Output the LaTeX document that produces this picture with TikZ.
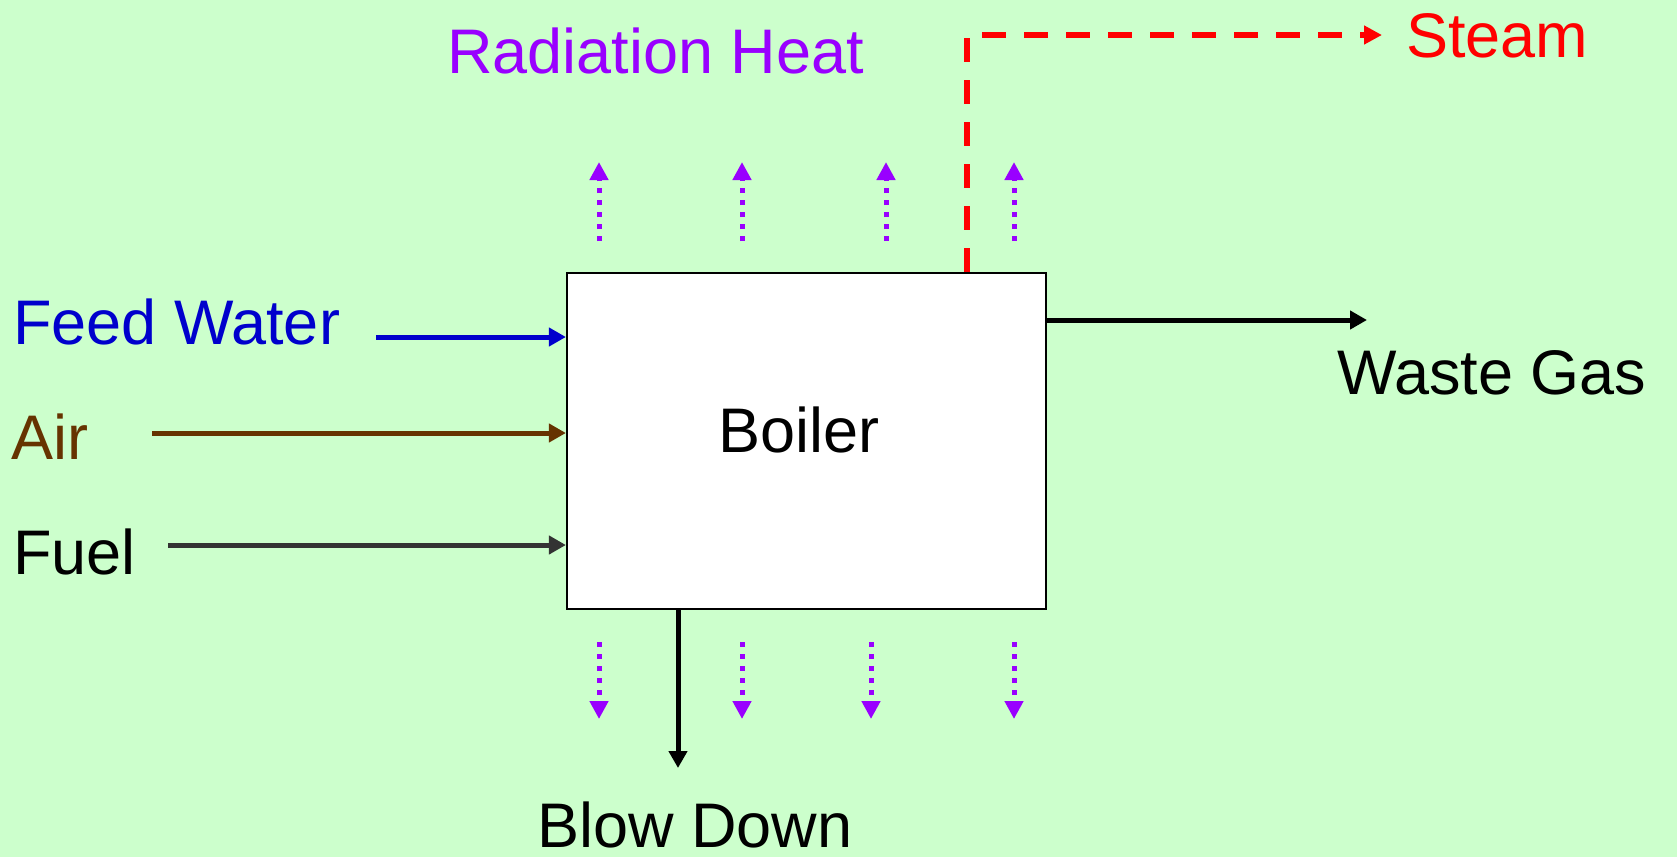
\documentclass[tikz,border=0pt]{standalone}
\usepackage{fontspec}
\setmainfont{Liberation Sans}
\usetikzlibrary{arrows.meta}
\definecolor{bgc}{HTML}{CCFFCC}
\definecolor{fwc}{HTML}{0000CC}
\definecolor{airc}{HTML}{663300}
\definecolor{fuelc}{HTML}{333333}
\definecolor{radc}{HTML}{9900FF}
\definecolor{stc}{HTML}{FF0000}
\tikzset{
  lbl/.style={inner sep=0pt, anchor=base west, font=\fontsize{63}{75}\selectfont},
  flow/.style={line width=5pt, -{Triangle[length=17pt,width=18pt]}},
  rad/.style={radc, line width=5pt, dash pattern=on 5pt off 7pt, -{Triangle[length=18pt,width=18pt]}},
  steamline/.style={stc, line width=5.5pt, dash pattern=on 24pt off 18pt, -{Triangle[length=18pt,width=18pt]}},
}
\begin{document}
\begin{tikzpicture}[x=1pt,y=-1pt]
\fill[bgc] (0,0) rectangle (1677,857);
\useasboundingbox (0,0) rectangle (1677,857);

\node[draw, line width=2.2pt, fill=white, minimum width=479pt, minimum height=336pt, inner sep=0pt] (boiler) at (806.5,441) {};
\node[inner sep=0pt, font=\fontsize{63}{75}\selectfont] (boilertxt) at (799,430) {Boiler};

\node[lbl, text=fwc] (fw) at (13,344) {Feed Water};
\node[lbl, text=airc] (air) at (11,459) {Air};
\node[lbl] (fuel) at (13,574) {Fuel};
\node[lbl, text=radc] (radh) at (447,73) {Radiation Heat};
\node[lbl, text=stc] (steam) at (1406,57) {Steam};
\node[lbl] (waste) at (1337,394) {Waste Gas};
\node[lbl] (blow) at (537,847) {Blow Down};

\coordinate (fwS) at (376,337);
\coordinate (airS) at (152,433);
\coordinate (fuelS) at (168,545);
\draw[flow, fwc] (fwS) -- (fwS -| boiler.west);
\draw[flow, airc] (airS) -- (airS -| boiler.west);
\draw[flow, fuelc] (fuelS) -- (fuelS -| boiler.west);

\coordinate (wgE) at (1367,320);
\draw[flow, black] (wgE -| boiler.east) -- (wgE);

\coordinate (stC) at (967,35);
\coordinate (stE) at (1382,35);
\draw[steamline] (stC |- boiler.north) -- (stC) -- (stE);

\coordinate (bdE) at (678,768);
\draw[flow, black] (bdE |- boiler.south) -- (bdE);

\foreach \x in {599,742,886,1014}{
  \coordinate (u\x a) at (\x,241);
  \coordinate (u\x b) at (\x,162);
  \draw[rad] (u\x a) -- (u\x b);
}
\foreach \x in {599,742,871,1014}{
  \coordinate (d\x a) at (\x,642);
  \coordinate (d\x b) at (\x,719);
  \draw[rad] (d\x a) -- (d\x b);
}
\end{tikzpicture}
\end{document}
